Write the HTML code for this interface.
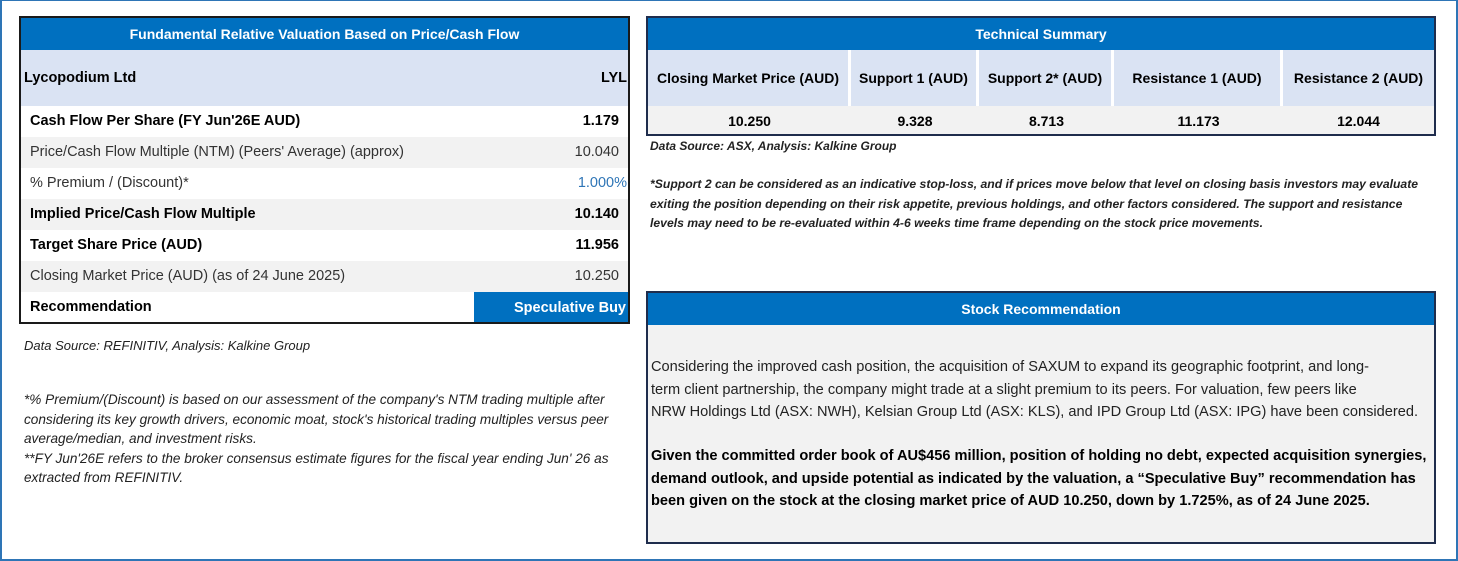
<!DOCTYPE html>
<html><head><meta charset="utf-8"><style>
*{margin:0;padding:0;box-sizing:border-box}
body{width:1458px;height:561px;background:#fff;font-family:"Liberation Sans",sans-serif;position:relative;overflow:hidden;color:#000}
.frame{position:absolute;left:0;top:0;width:1458px;height:561px;border:2px solid #2e75b6;border-top:1px solid #2e75b6}
.abs{position:absolute}
.hdr{background:#0070c0;color:#fff;font-weight:bold;font-size:14px;text-align:center}
.row{position:absolute;left:0;width:607px;height:31px;font-size:14.5px;line-height:31px;overflow:hidden}
.row .l{position:absolute;left:9px}
.row .r{position:absolute;right:9px}
.b{font-weight:bold}
.g{background:#f2f2f2}
.cell{position:absolute;text-align:center;font-weight:bold;font-size:14px}
.nw{white-space:nowrap}
</style></head><body>
<div class="frame"></div>

<div class="abs" style="left:19px;top:16px;width:611px;height:308px;border:2px solid #1a1a1a;overflow:hidden">
  <div class="abs hdr" style="left:0;top:0;width:607px;height:32px;line-height:32px">Fundamental Relative Valuation Based on Price/Cash Flow</div>
  <div class="abs" style="left:0;top:32px;width:607px;height:56px;background:#dae3f3;font-weight:bold;font-size:14.5px;line-height:56px">
    <span class="abs" style="left:3px">Lycopodium Ltd</span><span class="abs" style="right:1px">LYL</span></div>
  <div class="row b" style="top:88px"><span class="l">Cash Flow Per Share (FY Jun'26E AUD)</span><span class="r">1.179</span></div>
  <div class="row g" style="top:119px"><span class="l" style="color:#333">Price/Cash Flow Multiple (NTM) (Peers' Average) (approx)</span><span class="r" style="color:#333">10.040</span></div>
  <div class="row" style="top:150px"><span class="l" style="color:#333">% Premium / (Discount)*</span><span class="r" style="right:1px;color:#2e75b6">1.000%</span></div>
  <div class="row b g" style="top:181px"><span class="l">Implied Price/Cash Flow Multiple</span><span class="r">10.140</span></div>
  <div class="row b" style="top:212px"><span class="l">Target Share Price (AUD)</span><span class="r">11.956</span></div>
  <div class="row g" style="top:243px"><span class="l" style="color:#333">Closing Market Price (AUD) (as of 24 June 2025)</span><span class="r" style="color:#333">10.250</span></div>
  <div class="row b" style="top:274px;height:30px;line-height:30px"><span class="l">Recommendation</span>
    <span class="abs hdr" style="left:453px;width:154px;top:0;height:30px;line-height:32px;text-align:right;padding-right:2px;font-size:14.5px">Speculative Buy</span></div>
</div>

<div class="abs nw" style="left:24px;top:338px;font-size:13px;font-style:italic;color:#222">Data Source: REFINITIV, Analysis: Kalkine Group</div>
<div class="abs nw" style="left:24px;top:390px;font-size:13.6px;font-style:italic;line-height:19.5px;color:#222">*% Premium/(Discount) is based on our assessment of the company's NTM trading multiple after<br>considering its key growth drivers, economic moat, stock's historical trading multiples versus peer<br>average/median, and investment risks.<br>**FY Jun'26E refers to the broker consensus estimate figures for the fiscal year ending Jun' 26 as<br>extracted from REFINITIV.</div>

<div class="abs" style="left:646px;top:16px;width:790px;height:120px;border:2px solid #1f2d4d">
  <div class="abs hdr" style="left:0;top:0;width:786px;height:32px;line-height:32px">Technical Summary</div>
  <div class="abs" style="left:0;top:32px;width:786px;height:56px;background:#dae3f3"></div>
  <div class="abs" style="left:0;top:88px;width:786px;height:28px;background:#f2f2f2"></div>
  <div class="cell" style="left:0;top:32px;width:203px;line-height:56px;border-right:3px solid #fff">Closing Market Price (AUD)</div>
  <div class="cell" style="left:203px;top:32px;width:128px;line-height:56px;border-right:3px solid #fff">Support 1 (AUD)</div>
  <div class="cell" style="left:331px;top:32px;width:135px;line-height:56px;border-right:3px solid #fff">Support 2* (AUD)</div>
  <div class="cell" style="left:466px;top:32px;width:169px;line-height:56px;border-right:3px solid #fff">Resistance 1 (AUD)</div>
  <div class="cell" style="left:635px;top:32px;width:151px;line-height:56px">Resistance 2 (AUD)</div>
  <div class="cell" style="left:0;top:88px;width:203px;line-height:30px">10.250</div>
  <div class="cell" style="left:203px;top:88px;width:128px;line-height:30px">9.328</div>
  <div class="cell" style="left:331px;top:88px;width:135px;line-height:30px">8.713</div>
  <div class="cell" style="left:466px;top:88px;width:169px;line-height:30px">11.173</div>
  <div class="cell" style="left:635px;top:88px;width:151px;line-height:30px">12.044</div>
</div>
<div class="abs nw" style="left:650px;top:139px;font-size:12px;font-style:italic;font-weight:bold;color:#222">Data Source: ASX, Analysis: Kalkine Group</div>
<div class="abs nw" style="left:650px;top:175px;font-size:12.2px;font-style:italic;font-weight:bold;line-height:19.5px;color:#222">*Support 2 can be considered as an indicative stop-loss, and if prices move below that level on closing basis investors may evaluate<br>exiting the position depending on their risk appetite, previous holdings, and other factors considered. The support and resistance<br>levels may need to be re-evaluated within 4-6 weeks time frame depending on the stock price movements.</div>

<div class="abs" style="left:646px;top:291px;width:790px;height:253px;border:2px solid #1f2d4d;background:#f2f2f2">
  <div class="abs hdr" style="left:0;top:0;width:786px;height:32px;line-height:32px">Stock Recommendation</div>
  <div class="abs nw" style="left:3px;top:63px;font-size:14.6px;line-height:22.5px;color:#222">Considering the improved cash position, the acquisition of SAXUM to expand its geographic footprint, and long-<br>term client partnership, the company might trade at a slight premium to its peers. For valuation, few peers like<br>NRW Holdings Ltd (ASX: NWH), Kelsian Group Ltd (ASX: KLS), and IPD Group Ltd (ASX: IPG) have been considered.</div>
  <div class="abs nw" style="left:3px;top:152px;font-size:14.6px;font-weight:bold;line-height:22.5px">Given the committed order book of AU$456 million, position of holding no debt, expected acquisition synergies,<br>demand outlook, and upside potential as indicated by the valuation, a “Speculative Buy” recommendation has<br>been given on the stock at the closing market price of AUD 10.250, down by 1.725%, as of 24 June 2025.</div>
</div>
</body></html>
